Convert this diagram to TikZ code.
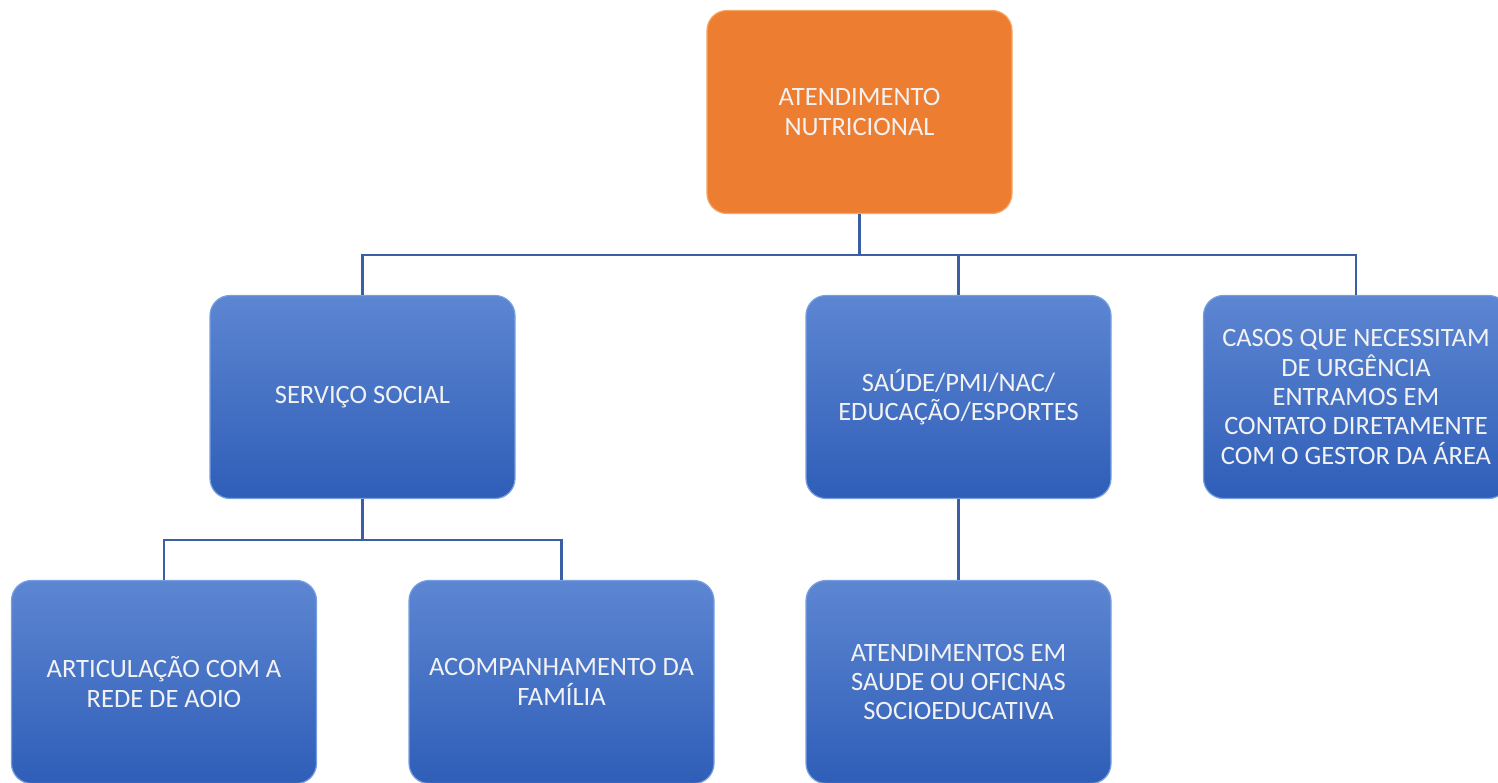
\documentclass[tikz,border=0pt]{standalone}
\usepackage{fontspec}
\setmainfont{Carlito}
\begin{document}
\begin{tikzpicture}[x=1pt,y=-1pt,
  boxbase/.style={rectangle, rounded corners=20pt, minimum width=305pt, minimum height=203pt,
    align=center, text=white!95!black, font=\fontsize{26.5}{29.3}\selectfont, inner sep=2pt},
  bluebox/.style={boxbase, top color={rgb,255:red,93;green,134;blue,210}, bottom color={rgb,255:red,47;green,94;blue,184},
    draw={rgb,255:red,120;green,160;blue,225}, line width=1.2pt},
  orangebox/.style={boxbase, fill={rgb,255:red,237;green,125;blue,49},
    draw={rgb,255:red,245;green,165;blue,100}, line width=1.2pt},
  link/.style={draw={rgb,255:red,59;green,95;blue,165}, line width=2.4pt}
]
\useasboundingbox (0,0) rectangle (1498,782);

\node[orangebox] (top) at (859.5,112) {ATENDIMENTO\\NUTRICIONAL};
\node[bluebox] (ss) at (362.5,397) {SERVIÇO SOCIAL};
\node[bluebox] (sau) at (958.5,397) {SAÚDE/PMI/NAC/\\EDUCAÇÃO/ESPORTES};
\node[bluebox] (cas) at (1356,397) {CASOS QUE NECESSITAM\\DE URGÊNCIA\\ENTRAMOS EM\\CONTATO DIRETAMENTE\\COM O GESTOR DA ÁREA};
\node[bluebox] (art) at (164,682) {ARTICULAÇÃO COM A\\REDE DE AOIO};
\node[bluebox] (aco) at (561.5,682) {ACOMPANHAMENTO DA\\FAMÍLIA};
\node[bluebox] (ate) at (958.5,682) {ATENDIMENTOS EM\\SAUDE OU OFICNAS\\SOCIOEDUCATIVA};

\coordinate (j1) at (859.5,255);
\coordinate (j2) at (362.5,540);

\draw[link] (top.south) -- (j1);
\draw[link] (ss.north) |- (j1);
\draw[link] (sau.north) -- (sau.north |- j1);
\draw[link] (cas.north) |- (j1);
\draw[link] (ss.south) -- (j2);
\draw[link] (art.north) |- (j2);
\draw[link] (aco.north) |- (j2);
\draw[link] (sau.south) -- (ate.north);
\end{tikzpicture}
\end{document}
